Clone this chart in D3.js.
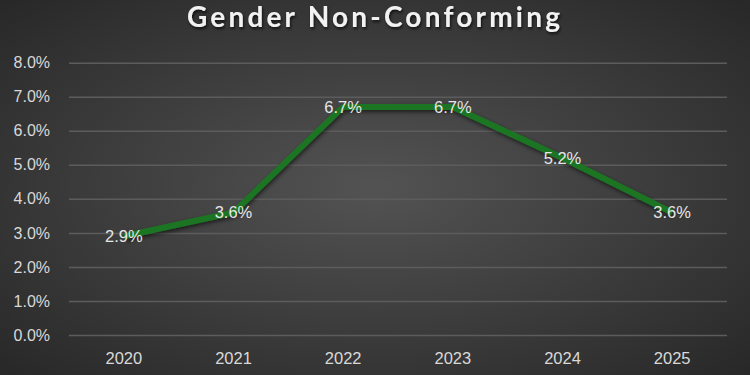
<!DOCTYPE html>
<html><head><meta charset="utf-8">
<script src="https://cdn.jsdelivr.net/npm/d3@7"></script>
<style>html,body{margin:0;padding:0;background:#333;}svg{display:block;}</style>
</head><body>
<svg id="c" width="750" height="375"></svg>
<script>
const title = "Gender Non-Conforming";
const years = ["2020","2021","2022","2023","2024","2025"];
const values = [0.029, 0.036, 0.067, 0.067, 0.052, 0.036];
const yTicks = [0,0.01,0.02,0.03,0.04,0.05,0.06,0.07,0.08];

const W = 750, H = 375;
const m = {left: 69, right: 23};
const svg = d3.select("#c");
const defs = svg.append("defs");
const rg = defs.append("radialGradient").attr("id","bg").attr("cx","50%").attr("cy","50%").attr("r","75%");
rg.append("stop").attr("offset","0%").attr("stop-color","#535353");
rg.append("stop").attr("offset","100%").attr("stop-color","#252525");
const f = defs.append("filter").attr("id","sh").attr("x","-10%").attr("y","-20%").attr("width","120%").attr("height","140%");
f.append("feDropShadow").attr("dx",1).attr("dy",2).attr("stdDeviation",2).attr("flood-color","#000").attr("flood-opacity",0.6);
const ft = defs.append("filter").attr("id","tsh").attr("x","-10%").attr("y","-30%").attr("width","120%").attr("height","160%");
ft.append("feDropShadow").attr("dx",1).attr("dy",2).attr("stdDeviation",1.5).attr("flood-color","#000").attr("flood-opacity",0.7);

svg.append("rect").attr("width",W).attr("height",H).attr("fill","url(#bg)");

const x = d3.scaleBand().domain(years).range([m.left, W - m.right]);
const y = d3.scaleLinear().domain([0,0.08]).range([335, 62.7]);
const FONT = "'Liberation Sans', Arial, sans-serif";

svg.append("text").attr("x",375).attr("y",27).attr("text-anchor","middle")
  .attr("font-family","Lato, 'Open Sans', sans-serif").attr("font-weight","bold")
  .attr("font-size",28).attr("letter-spacing",3.2).attr("fill","#f2f2f2")
  .attr("filter","url(#tsh)").text(title);

const yAxis = d3.axisLeft(y).tickValues(yTicks).tickFormat(d3.format(".1%"))
  .tickSize(-(W - m.right - m.left)).tickPadding(19);
const ga = svg.append("g").attr("transform",`translate(${m.left},0)`).call(yAxis);
ga.select(".domain").remove();
ga.selectAll(".tick line").attr("stroke","#5c5c5c").attr("stroke-width",1.5);
ga.selectAll(".tick text").attr("fill","#d9d9d9").attr("font-family",FONT).attr("font-size",16);

const xAxis = d3.axisBottom(x).tickSize(0).tickPadding(17);
const gx = svg.append("g").attr("transform",`translate(0,${y(0)})`).call(xAxis);
gx.select(".domain").remove();
gx.selectAll(".tick text").attr("fill","#d9d9d9").attr("font-family",FONT).attr("font-size",16.5);

const line = d3.line().x((d,i)=>x(years[i]) + x.bandwidth()/2).y(d=>y(d));
svg.append("path").datum(values).attr("d",line).attr("fill","none")
  .attr("stroke","#1b7523").attr("stroke-width",6).attr("stroke-linejoin","round")
  .attr("filter","url(#sh)");

svg.append("g").selectAll("text").data(values).join("text")
  .attr("x",(d,i)=>x(years[i]) + x.bandwidth()/2)
  .attr("y",d=>y(d))
  .attr("dy","0.36em")
  .attr("text-anchor","middle")
  .attr("font-family",FONT).attr("font-size",16.5)
  .attr("fill","#e6e6e6")
  .text(d=>d3.format(".1%")(d));
</script>
</body></html>
